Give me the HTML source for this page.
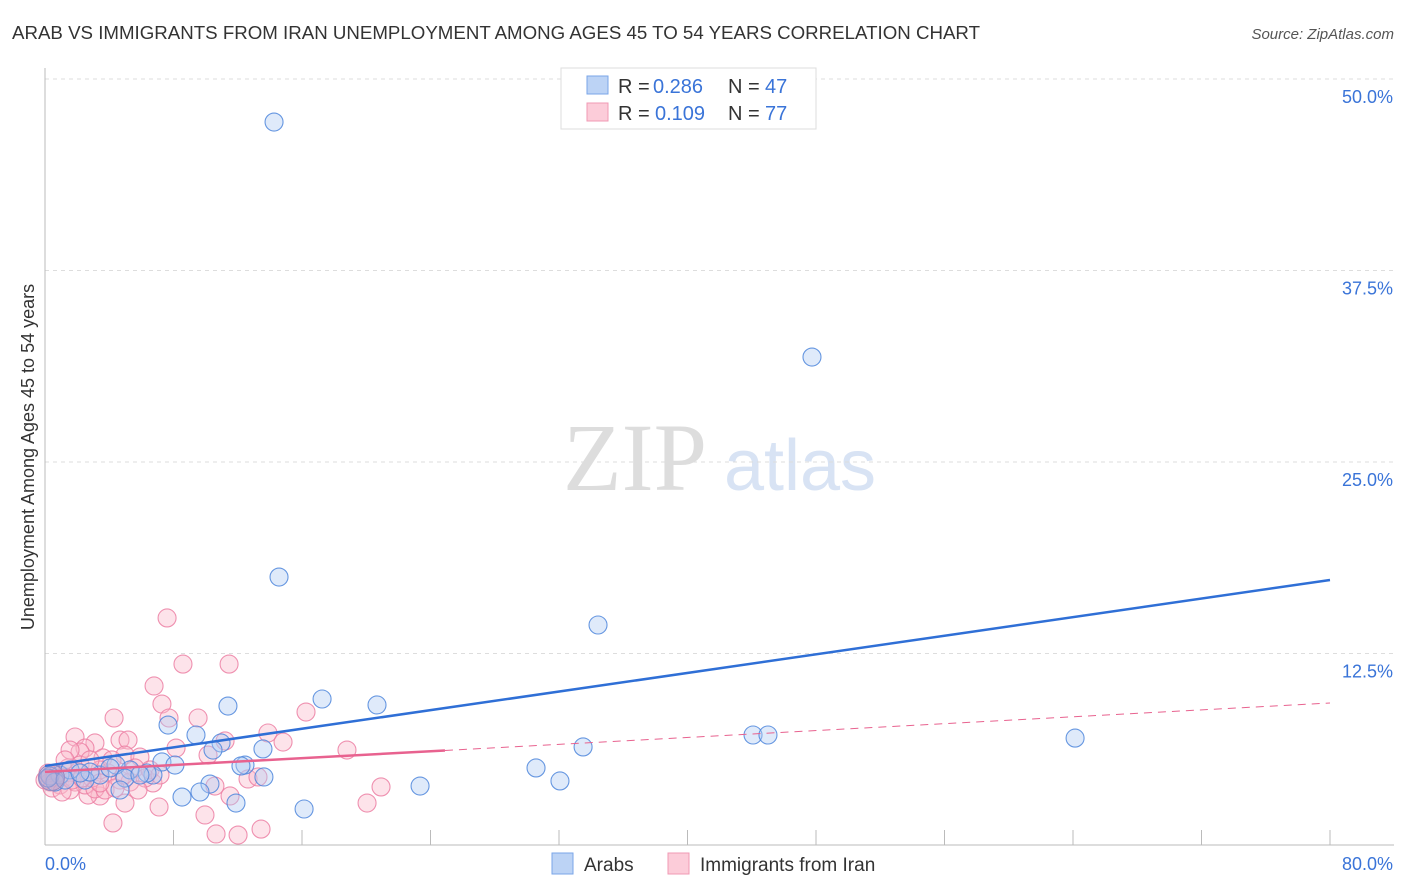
<!DOCTYPE html>
<html><head><meta charset="utf-8"><style>
body{margin:0;background:#fff;font-family:"Liberation Sans",sans-serif}
svg{display:block}
</style></head><body>
<svg id="chart" width="1406" height="892" xmlns="http://www.w3.org/2000/svg">
<text x="12" y="39" font-size="18" fill="#333" textLength="968" lengthAdjust="spacingAndGlyphs" font-family="Liberation Sans, sans-serif">ARAB VS IMMIGRANTS FROM IRAN UNEMPLOYMENT AMONG AGES 45 TO 54 YEARS CORRELATION CHART</text>
<text x="1394" y="39" font-size="15" fill="#555" text-anchor="end" font-style="italic">Source: ZipAtlas.com</text>
<g>
<text x="635" y="490" font-size="96" fill="#ddd" text-anchor="middle" font-family="Liberation Serif, serif">ZIP</text>
<text x="800" y="490" font-size="72" fill="#d8e3f4" text-anchor="middle">atlas</text>
</g>
<g id="grid"></g>
<g id="axes"></g>
<g id="pts"></g>
<g id="lines"></g>
<text transform="translate(34,457) rotate(-90)" font-size="18" fill="#333" text-anchor="middle">Unemployment Among Ages 45 to 54 years</text>
<g>
<rect x="561" y="68" width="255" height="61" fill="#fff" stroke="#ddd"/>
<rect x="587" y="76" width="21" height="18" fill="#bcd3f5" stroke="#7aa6e8"/>
<rect x="587" y="103" width="21" height="18" fill="#fcccd9" stroke="#f09ab4"/>
<text x="618" y="93" font-size="20" fill="#333">R =</text>
<text x="653" y="93" font-size="20" fill="#3a74d8">0.286</text>
<text x="728" y="93" font-size="20" fill="#333">N =</text>
<text x="765" y="93" font-size="20" fill="#3a74d8">47</text>
<text x="618" y="120" font-size="20" fill="#333">R =</text>
<text x="655" y="120" font-size="20" fill="#3a74d8">0.109</text>
<text x="728" y="120" font-size="20" fill="#333">N =</text>
<text x="765" y="120" font-size="20" fill="#3a74d8">77</text>
</g>
<g>
<rect x="552" y="853" width="21" height="21" fill="#bcd3f5" stroke="#7aa6e8"/>
<text x="584" y="871" font-size="19" fill="#333">Arabs</text>
<rect x="668" y="853" width="21" height="21" fill="#fcccd9" stroke="#f09ab4"/>
<text x="700" y="871" font-size="19" fill="#333">Immigrants from Iran</text>
</g>
</svg>
<script>
const yTicks=[12.5,25,37.5,50];
const yTickLabels=["12.5%","25.0%","37.5%","50.0%"];
const xTicks=[0,8,16,24,32,40,48,56,64,72,80];
const arabX=[14.26,47.75,14.57,34.43,17.25,20.67,11.39,7.66,9.40,44.08,45.01,64.13,10.96,33.50,13.57,10.46,7.28,8.09,12.45,12.20,30.57,13.63,23.35,32.06,10.27,8.53,9.65,11.89,16.13,6.72,6.35,5.29,4.42,3.42,2.49,0.93,0.31,1.56,2.80,4.98,5.91,0.62,0.19,1.25,4.05,2.18,4.67];
const arabY=[47.19,31.85,17.49,14.36,9.53,9.14,9.07,7.83,7.18,7.18,7.18,6.98,6.66,6.40,6.27,6.20,5.42,5.22,5.22,5.16,5.03,4.44,3.85,4.18,3.98,3.13,3.46,2.74,2.35,4.57,4.70,4.90,5.22,4.57,4.24,4.57,4.50,4.90,4.76,4.37,4.57,4.11,4.37,4.24,5.03,4.70,3.59];
const iranX=[7.60,8.59,11.46,6.79,7.28,7.72,9.53,4.30,16.25,13.88,14.82,18.80,8.16,10.15,11.21,1.87,3.11,2.49,4.67,5.17,3.61,2.18,1.56,4.98,5.91,3.92,4.67,5.29,6.72,12.64,13.26,20.92,10.58,11.52,4.98,4.23,7.10,20.05,10.65,12.02,13.45,9.96,3.42,2.68,0.93,0.31,0,0.62,1.25,1.87,2.49,3.11,3.74,4.36,1.56,0.81,1.43,2.05,2.93,3.42,5.60,6.23,1.25,2.18,4.17,4.92,0.19,0.44,1.06,1.68,2.30,2.80,3.42,5.79,6.54,7.16];
const iranY=[14.82,11.81,11.81,10.38,9.20,8.29,8.29,8.29,8.68,7.31,6.72,6.20,6.33,5.87,6.79,7.05,6.66,6.33,6.85,6.85,5.68,6.07,6.20,5.87,5.74,4.70,4.24,4.11,4.05,4.31,4.44,3.79,3.85,3.20,2.74,1.44,2.48,2.74,0.72,0.65,1.04,1.96,3.20,3.26,3.92,4.11,4.24,4.37,4.44,4.11,3.92,3.66,3.59,3.72,3.59,4.70,5.03,4.76,4.37,4.90,5.03,4.37,5.55,5.22,5.55,4.57,4.70,3.72,3.46,4.24,4.37,5.55,4.05,3.59,4.90,4.57];
const arabLine=[5.16,17.3];
const iranLine=[4.77,9.27];
const iranSolidEnd=24.9;
const X=v=>45+v/80*1285, Y=v=>845-v/50*766;
const NS="http://www.w3.org/2000/svg";
function mk(t,a,p){const e=document.createElementNS(NS,t);for(const k in a)e.setAttribute(k,a[k]);p.appendChild(e);return e;}
const grid=document.getElementById('grid'),axes=document.getElementById('axes'),pts=document.getElementById('pts'),lines=document.getElementById('lines');
yTicks.forEach((t,i)=>{
 const g=mk('line',{x1:45,x2:1394,y1:Y(t),y2:Y(t),stroke:'#ddd','stroke-dasharray':'4,4'},grid);
 
 
 const l=mk('text',{x:1393,y:Y(t)+24,'font-size':18,fill:'#3a74d8','text-anchor':'end'},axes);
 l.textContent=yTickLabels[i];
 
 
});
const ax=mk('line',{x1:45,x2:45,y1:68,y2:845,stroke:'#bbb'},axes);


const bx=mk('line',{x1:45,x2:1394,y1:845,y2:845,stroke:'#bbb'},axes);


xTicks.forEach(t=>{const k=mk('line',{x1:X(t),x2:X(t),y1:830,y2:845,stroke:'#bbb'},axes);
 
 });
const xl=mk('text',{x:45,y:870,'font-size':18,fill:'#3a74d8'},axes);xl.textContent='0.0%';


const xr=mk('text',{x:1393,y:870,'font-size':18,fill:'#3a74d8','text-anchor':'end'},axes);xr.textContent='80.0%';


function dots(xs,ys,fill,stroke,name){xs.forEach((x,i)=>{const c=mk('circle',{cx:X(x),cy:Y(ys[i]),r:9,fill:fill,'fill-opacity':0.4,stroke:stroke,'stroke-width':1.1,'stroke-opacity':0.85},pts);
 
 });}
dots(iranX,iranY,'#f9b8cb','#ec7fa3','iran-point');
dots(arabX,arabY,'#aecbf2','#4d86dc','arab-point');
const big1=mk('circle',{cx:X(0.4),cy:Y(4.4),r:13,fill:'#b9a0c8','fill-opacity':0.5,stroke:'#9a8ac0'},pts);


const la=mk('line',{x1:X(0),y1:Y(arabLine[0]),x2:X(80),y2:Y(arabLine[1]),stroke:'#2f6fd6','stroke-width':2.5},lines);


const iy=x=>iranLine[0]+(iranLine[1]-iranLine[0])*x/80;
const lp=mk('line',{x1:X(0),y1:Y(iy(0)),x2:X(iranSolidEnd),y2:Y(iy(iranSolidEnd)),stroke:'#e8628f','stroke-width':2.5},lines);


const ld=mk('line',{x1:X(iranSolidEnd),y1:Y(iy(iranSolidEnd)),x2:X(80),y2:Y(iy(80)),stroke:'#e8628f','stroke-width':1,'stroke-dasharray':'8,6'},lines);


</script>
</body></html>
